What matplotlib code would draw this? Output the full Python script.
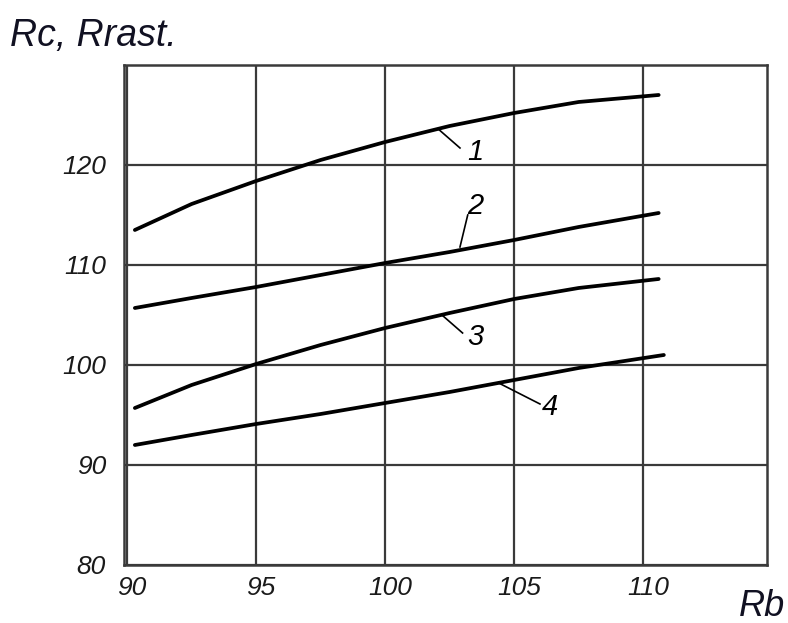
import matplotlib
matplotlib.use("Agg")
import matplotlib.pyplot as plt
from matplotlib import transforms

# Rb values
rb = [90.3, 92.5, 95, 97.5, 100, 102.5, 105, 107.5, 110.6]
curve1 = [113.5, 116.1, 118.4, 120.5, 122.3, 123.9, 125.2, 126.3, 127.0]
curve2 = [105.7, 106.7, 107.8, 109.0, 110.2, 111.3, 112.5, 113.8, 115.2]
curve3 = [95.7, 98.0, 100.1, 102.0, 103.7, 105.2, 106.6, 107.7, 108.6]
rb4 = [90.3, 92.5, 95, 97.5, 100, 102.5, 105, 107.5, 110.8]
curve4 = [92.0, 93.0, 94.1, 95.1, 96.2, 97.3, 98.5, 99.7, 101.0]

xticks = [90, 95, 100, 105, 110]
yticks = [80, 90, 100, 110, 120]

# curve labels: text, text position, point on curve
labels = ["1", "2", "3", "4"]
label_xy = [(103.5, 121.3), (103.5, 115.9), (103.5, 102.8), (106.4, 95.8)]
leader_from = [(102.1, 123.5), (102.9, 111.8), (102.2, 105.0), (104.4, 98.2)]
leader_to = [(102.9, 121.7), (103.2, 115.0), (103.0, 103.2), (106.0, 96.1)]

fig = plt.figure(figsize=(7.88, 6.23), dpi=100)
ax = fig.add_axes([0.1574, 0.0931, 0.816, 0.8026])

ax.plot(rb, curve1, color="black", lw=2.7, solid_capstyle="round", solid_joinstyle="round")
ax.plot(rb, curve2, color="black", lw=2.7, solid_capstyle="round", solid_joinstyle="round")
ax.plot(rb, curve3, color="black", lw=2.7, solid_capstyle="round", solid_joinstyle="round")
ax.plot(rb4, curve4, color="black", lw=2.7, solid_capstyle="round", solid_joinstyle="round")

ax.set_xlim(89.88, 114.8)
ax.set_ylim(80, 130)
ax.set_xticks(xticks)
ax.set_yticks(yticks)
ax.grid(True, color="#3a3a3a", lw=1.6)
ax.set_axisbelow(True)
for s in ax.spines.values():
    s.set_color("#3a3a3a")
    s.set_linewidth(1.8)

ax.tick_params(length=0, labelsize=19)
ax.tick_params(axis="x", pad=8)
ax.tick_params(axis="y", pad=13)
shift = transforms.ScaledTranslation(5 / 100, 0, fig.dpi_scale_trans)
for t in ax.get_xticklabels():
    t.set_transform(t.get_transform() + shift)
for t in ax.get_xticklabels() + ax.get_yticklabels():
    t.set_fontstyle("italic")
    t.set_fontfamily("Liberation Sans")
    t.set_color("#1a1a1a")

for lab, xy, p0, p1 in zip(labels, label_xy, leader_from, leader_to):
    ax.plot([p0[0], p1[0]], [p0[1], p1[1]], color="black", lw=1.2)
    ax.text(xy[0], xy[1], lab, fontsize=21, fontstyle="italic",
            family="Liberation Sans", ha="center", va="center")

fig.text(10 / 788, 1 - 46 / 623, "Rc, Rrast.", fontsize=27, fontstyle="italic",
         family="Liberation Sans", color="#111122", va="baseline")
fig.text(785 / 788, 1 - 616 / 623, "Rb", fontsize=26, fontstyle="italic",
         family="Liberation Sans", color="#111122", va="baseline", ha="right")

plt.savefig("out.png", dpi=100)
plt.close()
